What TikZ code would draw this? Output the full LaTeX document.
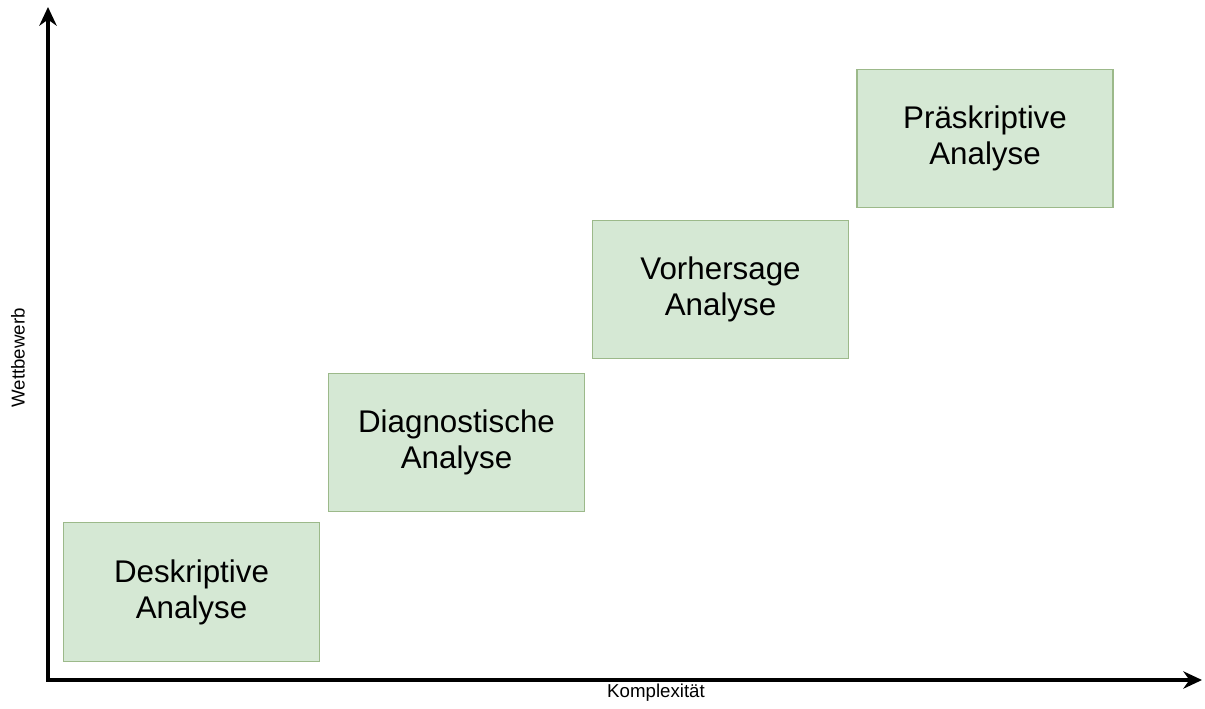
\documentclass[tikz,border=0pt]{standalone}
\usepackage{fontspec}
\setmainfont{Liberation Sans}
\usetikzlibrary{arrows.meta}
\definecolor{boxfill}{HTML}{D5E8D4}
\definecolor{boxline}{HTML}{9CB98A}

\begin{document}
\begin{tikzpicture}[x=0.75pt, y=-0.75pt,
    stage/.style={draw=boxline, fill=boxfill, line width=0.8pt,
        minimum width=192pt, minimum height=104pt, align=center,
        font=\fontsize{23.5}{27}\selectfont},
    axislabel/.style={font=\fontsize{14}{16}\selectfont}]
\useasboundingbox (0,0) rectangle (1205,708);

\coordinate (origin) at (48,680);
\coordinate (ytip) at (48,7);
\coordinate (xtip) at (1202,680);

\draw[line width=2.6pt, {Stealth[length=14pt,width=13pt]}-{Stealth[length=14pt,width=13pt]}]
    (ytip) -- (origin) -- (xtip);

\node (wettbewerb) at (18,358) [axislabel, rotate=90] {Wettbewerb};
\node (komplexitaet) at (656,693) [axislabel] {Komplexität};

\foreach \i/\x/\y/\txt in {1/191.5/592/Deskriptive,
                           2/456.5/442.5/Diagnostische,
                           3/720.5/289.5/Vorhersage,
                           4/985/138.5/Präskriptive} {%
    \node (stage\i) at (\x,\y) [stage] {\txt\\Analyse};
}
\end{tikzpicture}
\end{document}
